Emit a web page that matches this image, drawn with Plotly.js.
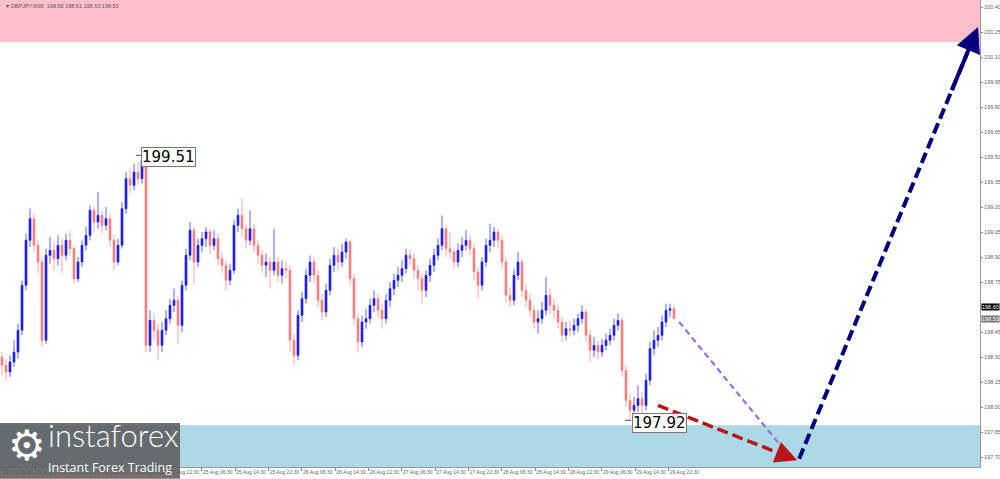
<!DOCTYPE html>
<html>
<head>
<meta charset="utf-8">
<script src="https://cdn.plot.ly/plotly-3.0.1.min.js"></script>
<style>html,body{margin:0;padding:0;background:#fff;}#chart{width:1000px;height:479px;}</style>
</head>
<body>
<div id="chart"></div>
<script>
// GBPJPY M30 (approximate)
const opens = [
198.30,198.25,198.21,198.27,198.33,198.46,198.73,199.00,199.13,198.97,
198.87,198.40,198.91,198.94,198.89,198.97,198.91,199.00,198.95,198.77,
198.87,198.97,199.03,199.18,199.11,199.15,199.09,199.13,199.00,198.87,
198.97,199.19,199.37,199.33,199.41,199.37,199.48,198.37,198.52,198.46,
198.37,198.46,198.53,198.61,198.64,198.49,198.73,198.91,199.06,198.87,
198.97,199.01,199.05,198.97,199.01,198.89,198.85,198.76,198.82,199.09,
199.15,199.07,199.00,199.07,198.97,198.91,198.85,198.87,198.82,198.87,
198.79,198.83,198.82,198.40,198.31,198.55,198.65,198.79,198.87,198.79,
198.64,198.57,198.70,198.85,198.91,198.87,198.93,198.99,198.77,198.53,
198.39,198.51,198.53,198.61,198.65,198.58,198.53,198.64,198.71,198.76,
198.79,198.83,198.91,198.89,198.82,198.77,198.70,198.79,198.85,198.91,
198.97,199.07,198.95,198.93,198.87,198.94,198.97,199.00,198.95,198.81,
198.73,198.87,198.97,199.00,199.05,199.00,198.87,198.67,198.64,198.79,
198.87,198.70,198.64,198.58,198.51,198.53,198.58,198.67,198.61,198.58,
198.51,198.43,198.47,198.46,198.49,198.53,198.57,198.43,198.34,198.37,
198.33,198.37,198.40,198.43,198.49,198.52,198.22,198.04,197.98,198.01,
198.05,198.01,198.16,198.35,198.40,198.43,198.51,198.58,198.59];
const highs = [
198.33,198.29,198.31,198.40,198.50,198.76,199.04,199.19,199.16,199.00,
198.90,198.95,199.02,198.99,199.03,199.01,199.04,199.06,198.97,198.90,
199.00,199.08,199.21,199.20,199.29,199.18,199.20,199.16,199.03,199.01,
199.23,199.41,199.43,199.46,199.47,199.51,199.49,198.58,198.56,198.50,
198.51,198.58,198.65,198.71,198.67,198.76,198.95,199.11,199.08,199.01,
199.05,199.08,199.07,199.06,199.04,198.93,198.88,198.86,199.12,199.19,
199.25,199.10,199.18,199.10,199.00,198.94,198.92,198.90,199.07,198.90,
198.88,198.87,198.85,198.44,198.58,198.69,198.83,198.91,198.90,198.82,
198.68,198.74,198.89,198.96,198.95,198.98,199.01,199.00,198.80,198.56,
198.55,198.59,198.65,198.70,198.68,198.62,198.68,198.75,198.80,198.84,
198.88,198.95,198.94,198.92,198.85,198.80,198.82,198.89,198.95,199.01,
199.15,199.09,199.05,198.96,198.98,199.02,199.06,199.03,198.98,198.84,
198.90,199.01,199.10,199.08,199.07,199.03,198.90,198.72,198.83,198.93,
198.89,198.74,198.68,198.61,198.58,198.63,198.78,198.71,198.65,198.61,
198.54,198.51,198.52,198.53,198.56,198.61,198.59,198.46,198.42,198.40,
198.41,198.44,198.47,198.53,198.56,198.54,198.25,198.08,198.06,198.13,
198.09,198.20,198.39,198.46,198.48,198.55,198.62,198.62,198.61];
const lows = [
198.19,198.16,198.18,198.24,198.29,198.43,198.70,198.96,198.93,198.80,
198.36,198.38,198.86,198.82,198.85,198.80,198.88,198.91,198.74,198.75,
198.84,198.94,199.00,199.05,199.07,199.04,199.06,198.96,198.82,198.85,
198.95,199.16,199.28,199.30,199.33,199.34,198.33,198.33,198.40,198.28,
198.33,198.43,198.50,198.57,198.38,198.45,198.70,198.88,198.74,198.84,
198.93,198.96,198.92,198.94,198.85,198.80,198.70,198.73,198.80,199.05,
199.02,198.95,198.97,198.93,198.86,198.80,198.78,198.71,198.79,198.75,
198.74,198.77,198.33,198.25,198.28,198.51,198.62,198.75,198.74,198.60,
198.52,198.54,198.67,198.81,198.82,198.84,198.89,198.73,198.49,198.33,
198.36,198.47,198.50,198.57,198.54,198.47,198.50,198.60,198.67,198.72,
198.75,198.80,198.85,198.77,198.70,198.62,198.66,198.75,198.81,198.88,
198.94,198.90,198.89,198.83,198.84,198.90,198.94,198.91,198.76,198.65,
198.70,198.84,198.93,198.96,198.95,198.83,198.63,198.60,198.61,198.76,
198.66,198.60,198.54,198.47,198.44,198.50,198.55,198.56,198.53,198.47,
198.39,198.40,198.42,198.43,198.45,198.50,198.39,198.27,198.30,198.29,
198.30,198.34,198.37,198.40,198.46,198.18,198.00,197.92,197.94,197.97,
197.96,197.98,198.13,198.31,198.36,198.40,198.48,198.54,198.53];
const closes = [
198.25,198.21,198.27,198.33,198.46,198.73,199.00,199.13,198.97,198.87,
198.40,198.91,198.94,198.89,198.97,198.91,199.00,198.95,198.77,198.87,
198.97,199.03,199.18,199.11,199.15,199.09,199.13,199.00,198.87,198.97,
199.19,199.37,199.33,199.41,199.37,199.48,198.37,198.52,198.46,198.37,
198.46,198.53,198.61,198.64,198.49,198.73,198.91,199.06,198.87,198.97,
199.01,199.05,198.97,199.01,198.89,198.85,198.76,198.82,199.09,199.15,
199.07,199.00,199.07,198.97,198.91,198.85,198.87,198.82,198.87,198.79,
198.83,198.82,198.40,198.31,198.55,198.65,198.79,198.87,198.79,198.64,
198.57,198.70,198.85,198.91,198.87,198.93,198.99,198.77,198.53,198.39,
198.51,198.53,198.61,198.65,198.58,198.53,198.64,198.71,198.76,198.79,
198.83,198.91,198.89,198.82,198.77,198.70,198.79,198.85,198.91,198.97,
199.07,198.95,198.93,198.87,198.94,198.97,199.00,198.95,198.81,198.73,
198.87,198.97,199.00,199.05,199.00,198.87,198.67,198.64,198.79,198.87,
198.70,198.64,198.58,198.51,198.53,198.58,198.67,198.61,198.58,198.51,
198.43,198.47,198.46,198.49,198.53,198.57,198.43,198.34,198.37,198.33,
198.37,198.40,198.43,198.49,198.52,198.22,198.04,197.98,198.01,198.05,
198.01,198.16,198.35,198.40,198.43,198.51,198.58,198.59,198.53];

const xTickLabels = ["21 Aug 06:30","21 Aug 14:30","21 Aug 22:30","22 Aug 06:30","22 Aug 14:30","22 Aug 22:30",
"25 Aug 06:30","25 Aug 14:30","25 Aug 22:30","26 Aug 06:30","26 Aug 14:30","26 Aug 22:30",
"27 Aug 06:30","27 Aug 14:30","27 Aug 22:30","28 Aug 06:30","28 Aug 14:30","28 Aug 22:30",
"29 Aug 06:30","29 Aug 14:30","29 Aug 22:30"];
// 198.60 is covered by the bid label, so it has no plain tick label
const yTickVals = [197.70,197.85,198.00,198.15,198.30,198.45,198.75,198.90,199.05,199.20,199.35,199.50,199.65,199.80,199.95,200.10,200.25,200.40];

// zones and wave levels
const resistanceZone = [200.19, 200.60];
const supportZone = [197.50, 197.89];
const markHigh = {idx: 35, price: 199.51};
const markLow = {idx: 157, price: 197.92};
const bidPrice = 198.60, lastPrice = 198.53;
const titleText = "\u25BE GBPJPY,M30  198.59 198.61 198.53 198.53";

// forecast arrows (bar index, price)
const purpleWaveX = [169.3, 194.6], purpleWaveY = [198.51, 197.77];
const redWaveX = [164.0, 198.8], redWaveY = [198.01, 197.68];
const navyWaveX = [199.3, 244.0], navyWaveY = [197.69, 200.28];

const idx = closes.map((_, i) => i);
const tickPos = xTickLabels.map((_, k) => k * 8.333);

const traces = [
  {type: 'candlestick', x: idx, open: opens, high: highs, low: lows, close: closes,
   increasing: {line: {color: '#1f1fe6', width: 0.7}, fillcolor: '#1f1fe6'},
   decreasing: {line: {color: '#f08282', width: 0.7}, fillcolor: '#f08282'},
   whiskerwidth: 0, hoverinfo: 'skip', showlegend: false},
  {type: 'scatter', mode: 'lines', x: purpleWaveX, y: purpleWaveY,
   line: {color: '#9a6fd8', width: 2.2, dash: '6px,4px'}, hoverinfo: 'skip', showlegend: false},
  {type: 'scatter', mode: 'lines', x: [redWaveX[0], redWaveX[0] + (redWaveX[1]-redWaveX[0])*0.9], y: [redWaveY[0], redWaveY[0] + (redWaveY[1]-redWaveY[0])*0.9],
   line: {color: '#b81616', width: 3.5, dash: '11px,5px'}, hoverinfo: 'skip', showlegend: false},
  {type: 'scatter', mode: 'lines', x: [navyWaveX[0], navyWaveX[0] + (navyWaveX[1]-navyWaveX[0])*0.94], y: [navyWaveY[0], navyWaveY[0] + (navyWaveY[1]-navyWaveY[0])*0.94],
   line: {color: '#00007a', width: 4, dash: '11px,5px'}, hoverinfo: 'skip', showlegend: false}
];

function arrowHead(xs, ys, color, w) {
  return {x: xs[1], y: ys[1], xref: 'x', yref: 'y',
    ax: xs[0] + (xs[1]-xs[0])*0.85, ay: ys[0] + (ys[1]-ys[0])*0.85, axref: 'x', ayref: 'y',
    text: '', showarrow: true, arrowhead: 2, arrowsize: 1.25, arrowwidth: w, arrowcolor: color, standoff: 0, startstandoff: 0};
}

const layout = {
  width: 1000, height: 479,
  margin: {l: 0, r: 20, t: 0, b: 12},
  paper_bgcolor: '#ffffff', plot_bgcolor: '#ffffff',
  font: {family: 'Liberation Sans, Arial, sans-serif', color: '#666'},
  showlegend: false,
  xaxis: {range: [-0.5, 244.5], rangeslider: {visible: false}, showgrid: false, zeroline: false,
    tickvals: tickPos, ticktext: xTickLabels, ticks: 'outside', ticklen: 3, tickcolor: '#888',
    tickangle: 0, ticklabelposition: 'outside right', ticklabelstandoff: 0, automargin: false,
    tickfont: {size: 5, color: '#666'},
    showline: true, linecolor: '#999', linewidth: 1, fixedrange: true},
  yaxis: {range: [197.64, 200.442], side: 'right', showgrid: false, zeroline: false,
    tickvals: yTickVals, tickformat: '.2f', ticks: 'outside', ticklen: 2, tickcolor: '#888',
    ticklabelstandoff: 0, automargin: false,
    tickfont: {size: 5.5, color: '#666'}, showline: true, linecolor: '#999', linewidth: 1, fixedrange: true},
  shapes: [
    {type: 'rect', xref: 'paper', yref: 'y', x0: 0, x1: 1, y0: resistanceZone[0], y1: resistanceZone[1], fillcolor: '#ffc0cb', line: {width: 0}, layer: 'below'},
    {type: 'rect', xref: 'paper', yref: 'y', x0: 0, x1: 1, y0: supportZone[0], y1: supportZone[1], fillcolor: '#add8e6', line: {width: 0}, layer: 'below'},
    {type: 'line', xref: 'x', yref: 'y', xsizemode: 'pixel', xanchor: markHigh.idx, x0: -6, x1: 0, y0: markHigh.price, y1: markHigh.price, line: {color: '#555', width: 1}},
    {type: 'line', xref: 'x', yref: 'y', xsizemode: 'pixel', xanchor: markLow.idx, x0: -5, x1: 1, y0: markLow.price, y1: markLow.price, line: {color: '#555', width: 1}},
    {type: 'rect', xref: 'paper', yref: 'paper', x0: 0, x1: 0.1837, y0: -0.025, y1: 0.094, fillcolor: 'rgba(88,88,88,0.85)', line: {width: 0}, layer: 'above'}
  ],
  annotations: [
    {xref: 'paper', yref: 'paper', x: 0.004, y: 0.997, xanchor: 'left', yanchor: 'top', text: titleText, showarrow: false, font: {size: 5.5, color: '#555'}},
    {xref: 'x', yref: 'y', x: markHigh.idx, y: markHigh.price, xanchor: 'left', yanchor: 'middle', xshift: -1, yshift: -2,
     text: markHigh.price.toFixed(2), showarrow: false, bgcolor: '#ffffff', bordercolor: '#777', borderwidth: 1, borderpad: 0,
     font: {family: 'DejaVu Sans, Verdana, sans-serif', size: 15, color: '#000'}},
    {xref: 'x', yref: 'y', x: markLow.idx, y: markLow.price, xanchor: 'left', yanchor: 'middle', xshift: 2, yshift: -3,
     text: markLow.price.toFixed(2), showarrow: false, bgcolor: '#ffffff', bordercolor: '#777', borderwidth: 1, borderpad: 0,
     font: {family: 'DejaVu Sans, Verdana, sans-serif', size: 15, color: '#000'}},
    {xref: 'paper', yref: 'y', x: 1, y: bidPrice, xanchor: 'left', yanchor: 'middle', xshift: 1, text: bidPrice.toFixed(2), showarrow: false,
     bgcolor: '#000', font: {size: 5.5, color: '#fff'}, borderpad: 0},
    {xref: 'paper', yref: 'y', x: 1, y: lastPrice, xanchor: 'left', yanchor: 'middle', xshift: 1, text: lastPrice.toFixed(2), showarrow: false,
     bgcolor: '#777', font: {size: 5.5, color: '#fff'}, borderpad: 0},
    arrowHead(redWaveX, redWaveY, '#b81616', 3.5),
    arrowHead(navyWaveX, navyWaveY, '#00007a', 4),
    {xref: 'paper', yref: 'paper', x: 0.006, y: 0.045, xanchor: 'left', yanchor: 'middle', text: '\u2699', showarrow: false,
     font: {family: 'DejaVu Sans', size: 42, color: '#ffffff'}},
    {xref: 'paper', yref: 'paper', x: 0.047, y: 0.068, xanchor: 'left', yanchor: 'middle', text: 'instaforex', showarrow: false,
     font: {family: 'Lato, Open Sans, sans-serif', size: 31, color: '#ffffff', weight: 300}},
    {xref: 'paper', yref: 'paper', x: 0.047, y: 0.0, xanchor: 'left', yanchor: 'middle', text: 'Instant Forex Trading', showarrow: false,
     font: {family: 'Open Sans, sans-serif', size: 12.5, color: '#ffffff'}}
  ]
};

Plotly.newPlot('chart', traces, layout, {staticPlot: true, displayModeBar: false});
</script>
</body>
</html>
